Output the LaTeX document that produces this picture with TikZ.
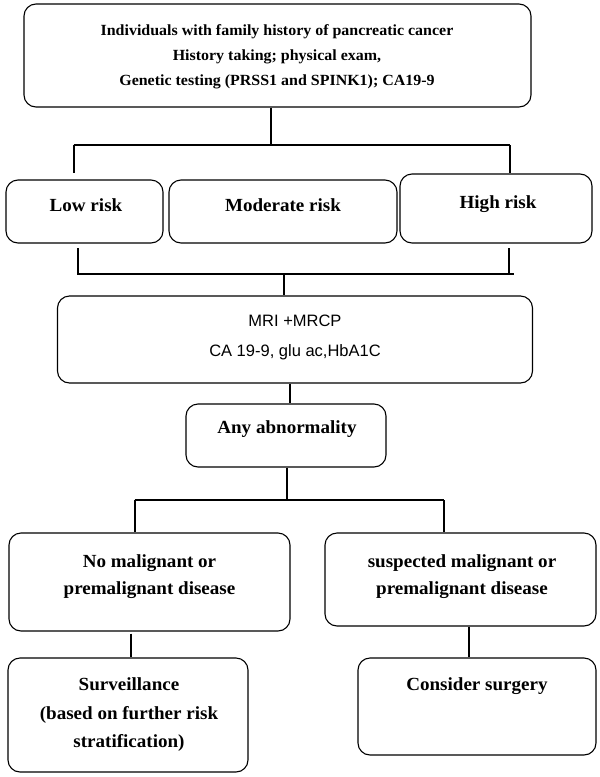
\documentclass[tikz,border=0pt]{standalone}
\usepackage{fontspec}
\setmainfont{Liberation Serif}[FakeStretch=1.03]
\newfontfamily\mrifont{Liberation Sans}
\tikzset{
  box/.style={draw, line width=1.1pt, rounded corners=12pt, inner sep=0pt},
  txt/.style={align=center, font=\bfseries\fontsize{18.5}{27}\selectfont, inner sep=0pt},
  conn/.style={line width=2pt},
}
\begin{document}
\begin{tikzpicture}[x=1pt,y=-1pt]
  \useasboundingbox (0,0) rectangle (600,777);
  % boxes
  \node[box, minimum width=507pt, minimum height=103pt] (top) at (277.5,55.5) {};
  \node[box, minimum width=157pt, minimum height=63pt] (low) at (84.5,211.5) {};
  \node[box, minimum width=228pt, minimum height=63pt] (mod) at (283,211.5) {};
  \node[box, minimum width=192pt, minimum height=69pt] (high) at (496,208.5) {};
  \node[box, minimum width=475pt, minimum height=87pt] (mri) at (295,339.5) {};
  \node[box, minimum width=200pt, minimum height=63pt] (any) at (286,435.5) {};
  \node[box, minimum width=281pt, minimum height=98pt] (nomal) at (149.5,582) {};
  \node[box, minimum width=271pt, minimum height=93pt] (susp) at (460.5,579.5) {};
  \node[box, minimum width=240pt, minimum height=114pt] (surv) at (128,715) {};
  \node[box, minimum width=238pt, minimum height=97pt] (cons) at (477,706.5) {};
  % texts
  \node[txt, font=\bfseries\fontsize{15.5}{25}\selectfont] (toptext) at (277,57)
    {Individuals with family history of pancreatic cancer\\
     History taking; physical exam,\\
     Genetic testing (PRSS1 and SPINK1); CA19-9};
  \node[txt] (lowtext) at (86,205.5) {Low risk};
  \node[txt] (modtext) at (283,205.5) {Moderate risk};
  \node[txt] (hightext) at (498,204.5) {High risk};
  \node[txt, font=\mrifont\fontsize{16.5}{29.5}\selectfont] (mritext) at (295,337.5)
    {MRI +MRCP\\CA 19-9, glu ac,HbA1C};
  \node[txt] (anytext) at (287,429.5) {Any abnormality};
  \node[txt] (nomaltext) at (149.5,577) {No malignant or\\premalignant disease};
  \node[txt] (susptext) at (462,577) {suspected malignant or\\premalignant disease};
  \node[txt, font=\bfseries\fontsize{18.5}{28.5}\selectfont] (survtext) at (129,715)
    {Surveillance\\(based on further risk\\stratification)};
  \node[txt] (constext) at (477,686.5) {Consider surgery};
  % junctions
  \coordinate (riskbus) at (271,145);
  \coordinate (riskbusl) at (73.5,145);
  \coordinate (riskbusr) at (509.5,145);
  \coordinate (lowin) at (73.5,173);
  \coordinate (lowout) at (78,248);
  \coordinate (highout) at (509,248);
  \coordinate (mribusl) at (78,274);
  \coordinate (mribusr) at (514,274);
  \coordinate (mribus) at (284,274);
  \coordinate (anybus) at (287,500);
  \coordinate (anybusl) at (134.5,500);
  \coordinate (anybusr) at (444,500);
  % connectors
  \draw[conn] (top.south -| riskbus) -- (riskbus);
  \draw[conn] (riskbusl) -- (riskbusr);
  \draw[conn] (riskbusl) -- (lowin);
  \draw[conn] (riskbusr) -- (riskbusr |- high.north);
  \draw[conn] (lowout) -- (mribusl) -- (mribusr);
  \draw[conn] (highout) -- (highout |- mribusr);
  \draw[conn] (mribus) -- (mribus |- mri.north);
  \draw[conn] (mri.south -| 290,0) -- (any.north -| 290,0);
  \draw[conn] (any.south -| anybus) -- (anybus);
  \draw[conn] (anybusl) -- (anybusr);
  \draw[conn] (anybusl) -- (anybusl |- nomal.north);
  \draw[conn] (anybusr) -- (anybusr |- susp.north);
  \draw[conn] ([yshift=-2pt]nomal.south -| 131,0) -- (surv.north -| 131,0);
  \draw[conn] (susp.south -| 469,0) -- (cons.north -| 469,0);
\end{tikzpicture}
\end{document}
